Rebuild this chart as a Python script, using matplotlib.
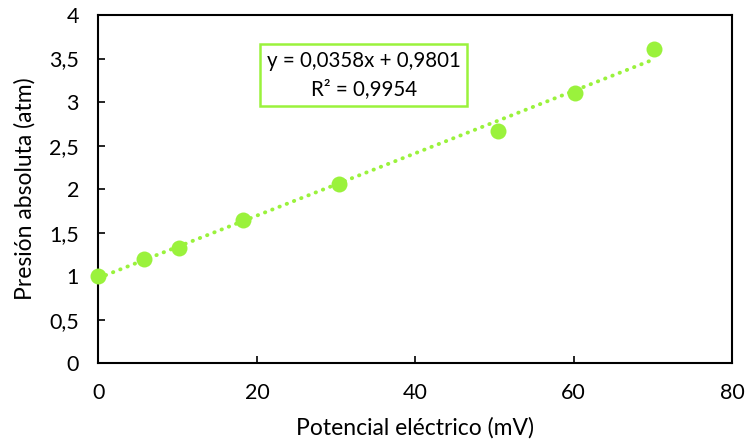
import numpy as np
import matplotlib.pyplot as plt

# data
potencial = [0, 5.8, 10.2, 18.3, 30.4, 50.4, 60.2, 70.2]
presion = [1.0, 1.20, 1.32, 1.65, 2.06, 2.67, 3.10, 3.61]
pendiente = 0.0358
ordenada = 0.9801
eq_text = 'y = 0,0358x + 0,9801\nR² = 0,9954'

x_ticks = [0, 20, 40, 60, 80]
y_ticks = [0, 0.5, 1, 1.5, 2, 2.5, 3, 3.5, 4]
y_labels = ['0', '0,5', '1', '1,5', '2', '2,5', '3', '3,5', '4']

verde = '#9AF23C'
plt.rcParams['font.family'] = ['Lato', 'DejaVu Sans']

fig = plt.figure(figsize=(7.45, 4.46), dpi=100)
ax = fig.add_axes([0.1322, 0.1854, 0.8504, 0.781])

# trendline
xt = np.array([min(potencial), max(potencial)])
ax.plot(xt, pendiente * xt + ordenada, color=verde, lw=2.8,
        ls=(0, (0.1, 1.9)), dash_capstyle='round', zorder=2)
ax.plot(potencial, presion, 'o', color=verde, ms=11.5, mec='none',
        zorder=3, clip_on=False)

ax.set_xlim(0, 80)
ax.set_ylim(0, 4)
ax.set_xticks(x_ticks)
ax.set_yticks(y_ticks)
ax.set_yticklabels(y_labels)
ax.tick_params(direction='in', length=5, width=1.2, labelsize=15.5)
ax.tick_params(axis='x', pad=14)
ax.tick_params(axis='y', pad=14)
for s in ax.spines.values():
    s.set_linewidth(1.5)
    s.set_color('black')

ax.set_xlabel('Potencial eléctrico (mV)', fontsize=16.5, labelpad=10)
ax.set_ylabel('Presión absoluta (atm)', fontsize=16.5, labelpad=10)

ax.text(33.5, 3.31, eq_text, ha='center', va='center', fontsize=14.8,
        linespacing=1.55,
        bbox=dict(boxstyle='square,pad=0.32', fc='white', ec=verde, lw=1.8))

fig.savefig('out.png', dpi=100)
